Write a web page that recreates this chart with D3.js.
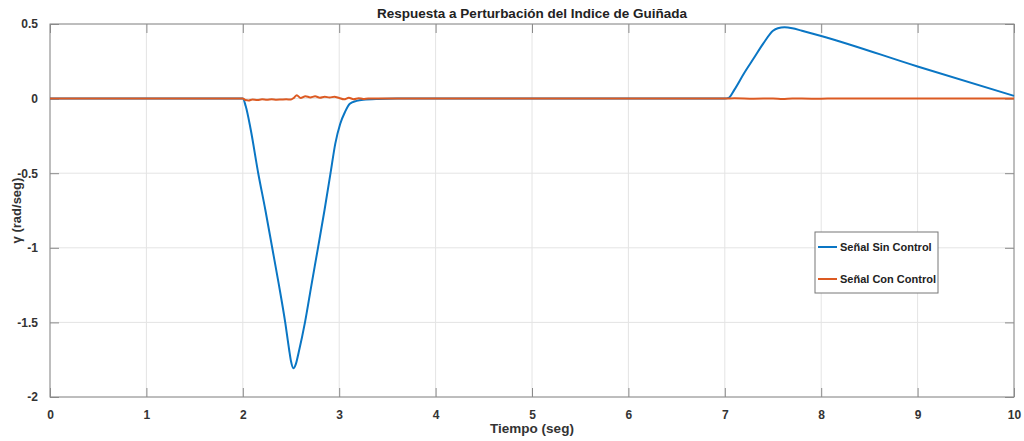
<!DOCTYPE html>
<html>
<head>
<meta charset="utf-8">
<script src="https://d3js.org/d3.v7.min.js"></script>
<style>
  html, body { margin: 0; padding: 0; background: #fff; }
  svg { display: block; font-family: "Liberation Sans", Arial, Helvetica, sans-serif; }
</style>
</head>
<body>
<svg id="chart" width="1024" height="441"></svg>
<script>
// Yaw-rate response, without and with control
const xTicks = [0, 1, 2, 3, 4, 5, 6, 7, 8, 9, 10];
const yTicks = [-2, -1.5, -1, -0.5, 0, 0.5];

const tSin = [0, 2.0, 2.03, 2.08, 2.16, 2.235, 2.305, 2.375, 2.44, 2.48, 2.50, 2.525, 2.55, 2.58, 2.645,
  2.712, 2.78, 2.847, 2.91, 2.96, 3.01, 3.06, 3.11, 3.18, 3.25, 3.4, 3.6,
  7.0, 7.04, 7.1, 7.2, 7.3, 7.4, 7.5, 7.55, 7.62, 7.7, 7.8, 8.0, 9.0, 10.0];
const ySin = [0, 0, -0.05, -0.2, -0.5, -0.75, -1.0, -1.25, -1.5, -1.68, -1.76, -1.807, -1.78, -1.70, -1.5,
  -1.25, -1.0, -0.75, -0.5, -0.3, -0.17, -0.09, -0.035, -0.015, -0.007, -0.002, 0,
  0, 0.005, 0.06, 0.17, 0.27, 0.37, 0.455, 0.472, 0.478, 0.472, 0.455, 0.42, 0.215, 0.018];

const tCon = [0, 2.0, 2.03, 2.06, 2.1, 2.15, 2.2, 2.25, 2.3, 2.35, 2.4, 2.45, 2.5, 2.53, 2.56, 2.6,
  2.65, 2.7, 2.75, 2.8, 2.85, 2.9, 2.95, 3.0, 3.05, 3.1, 3.15, 3.2, 3.25, 3.3, 3.4, 3.5,
  7.0, 7.1, 7.3, 7.5, 7.6, 7.7, 7.9, 8.1, 10.0];
const yCon = [0, 0, -0.01, -0.012, -0.006, -0.009, -0.005, -0.008, -0.004, -0.007, -0.006, -0.005, -0.006, 0.005, 0.022, 0.004,
  0.016, 0.008, 0.015, 0.006, 0.013, 0.007, 0.013, 0.004, -0.005, 0.005, -0.004, 0.003, -0.002, 0.001, 0, 0,
  0, 0.002, -0.001, 0.001, -0.003, 0.001, -0.001, 0, 0];

const seriesNames = ["Señal Sin Control", "Señal Con Control"];
const seriesColors = ["#0a76c4", "#dc5a22"];

const svg = d3.select("#chart");
const m = { left: 50, right: 1014, top: 24, bottom: 397 };

const x = d3.scaleLinear().domain([0, 10]).range([m.left, m.right]);
const y = d3.scaleLinear().domain([-2, 0.5]).range([m.bottom, m.top]);

const axisColor = "#8a8a8a";
const textColor = "#333";

// grid
const grid = svg.append("g");
grid.selectAll(".gx").data(xTicks).join("line")
  .attr("x1", d => x(d)).attr("x2", d => x(d))
  .attr("y1", m.top).attr("y2", m.bottom)
  .attr("stroke", "#e4e4e4").attr("stroke-width", 1);
grid.selectAll(".gy").data(yTicks).join("line")
  .attr("x1", m.left).attr("x2", m.right)
  .attr("y1", d => y(d)).attr("y2", d => y(d))
  .attr("stroke", "#e4e4e4").attr("stroke-width", 1);

// axes (box with inward ticks)
function styleAxis(g) {
  g.select(".domain").remove();
  g.selectAll(".tick line").attr("stroke", axisColor);
  g.selectAll(".tick text").attr("fill", textColor)
    .style("font-size", "12px").style("font-weight", "bold");
}
svg.append("g").attr("transform", `translate(0,${m.bottom})`)
  .call(d3.axisBottom(x).tickValues(xTicks).tickFormat(d3.format("d")).tickSizeInner(-9).tickPadding(13))
  .call(styleAxis);
svg.append("g").attr("transform", `translate(0,${m.top})`)
  .call(d3.axisTop(x).tickValues(xTicks).tickFormat("").tickSizeInner(-9))
  .call(styleAxis);
svg.append("g").attr("transform", `translate(${m.left},0)`)
  .call(d3.axisLeft(y).tickValues(yTicks).tickFormat(d => d === 0 ? "0" : String(d)).tickSizeInner(-9).tickPadding(12))
  .call(styleAxis);
svg.append("g").attr("transform", `translate(${m.right},0)`)
  .call(d3.axisRight(y).tickValues(yTicks).tickFormat("").tickSizeInner(-9))
  .call(styleAxis);

svg.append("rect")
  .attr("x", m.left).attr("y", m.top)
  .attr("width", m.right - m.left).attr("height", m.bottom - m.top)
  .attr("fill", "none").attr("stroke", axisColor).attr("stroke-width", 1);

// data lines
svg.append("clipPath").attr("id", "plotclip").append("rect")
  .attr("x", m.left).attr("y", m.top - 2).attr("width", m.right - m.left + 2).attr("height", m.bottom - m.top + 4);

function drawSeries(ts, vs, color) {
  const pts = ts.map((t, i) => [t, vs[i]]);
  svg.append("path").datum(pts)
    .attr("clip-path", "url(#plotclip)")
    .attr("fill", "none").attr("stroke", color).attr("stroke-width", 2)
    .attr("stroke-linejoin", "round")
    .attr("d", d3.line().x(d => x(d[0])).y(d => y(d[1])).curve(d3.curveMonotoneX));
}
drawSeries(tSin, ySin, seriesColors[0]);
drawSeries(tCon, yCon, seriesColors[1]);

// title and axis labels
svg.append("text").attr("x", (m.left + m.right) / 2).attr("y", 18)
  .attr("text-anchor", "middle").attr("fill", "#222")
  .style("font-size", "13.5px").style("font-weight", "bold")
  .text("Respuesta a Perturbación del Indice de Guiñada");
svg.append("text").attr("x", (m.left + m.right) / 2).attr("y", 433)
  .attr("text-anchor", "middle").attr("fill", textColor)
  .style("font-size", "13.5px").style("font-weight", "bold")
  .text("Tiempo (seg)");
svg.append("text")
  .attr("transform", `translate(21,${(m.top + m.bottom) / 2}) rotate(-90)`)
  .attr("text-anchor", "middle").attr("fill", textColor)
  .style("font-size", "13px").style("font-weight", "bold")
  .text("γ (rad/seg)");

// legend
const lg = svg.append("g").attr("transform", "translate(815,232)");
lg.append("rect").attr("width", 123).attr("height", 61)
  .attr("fill", "#fff").attr("stroke", "#777").attr("stroke-width", 1);
seriesNames.forEach((name, i) => {
  const cy = 15 + i * 32;
  lg.append("line").attr("x1", 3).attr("x2", 22).attr("y1", cy).attr("y2", cy)
    .attr("stroke", seriesColors[i]).attr("stroke-width", 2);
  lg.append("text").attr("x", 25).attr("y", cy + 4)
    .attr("fill", "#222").style("font-size", "11px").style("font-weight", "bold")
    .text(name);
});
</script>
</body>
</html>
